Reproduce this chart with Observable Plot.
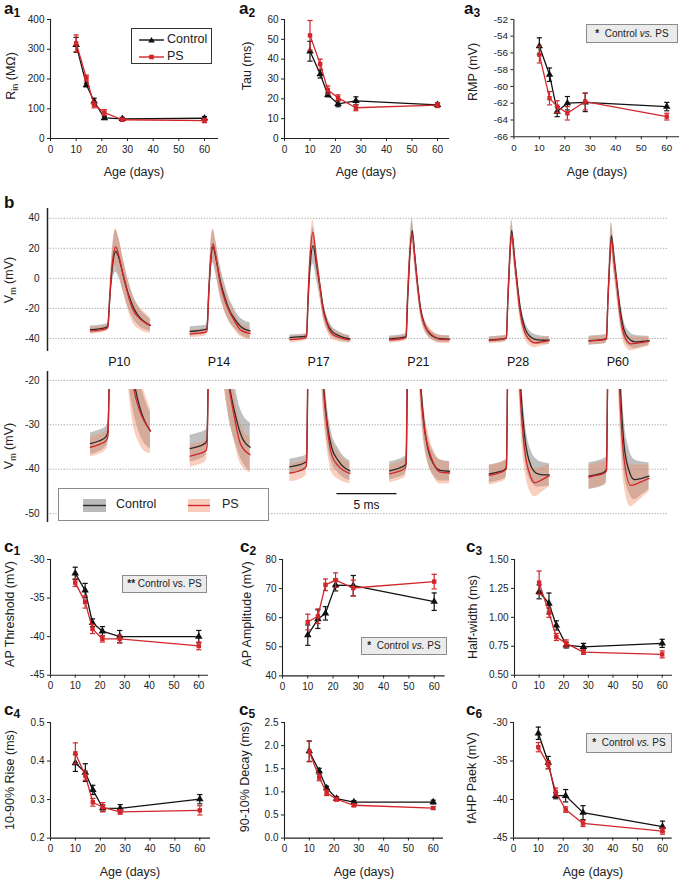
<!DOCTYPE html>
<html><head><meta charset="utf-8">
<script src="https://cdn.jsdelivr.net/npm/d3@7"></script>
<script src="https://cdn.jsdelivr.net/npm/@observablehq/plot@0.6"></script>
<style>
body{margin:0;background:#fff;}
#fig{position:relative;width:685px;height:879px;font-family:"Liberation Sans",Arial,sans-serif;color:#222;overflow:hidden;background:#fff}
#fig svg{overflow:visible}
.plot{position:absolute}
.lab{position:absolute;font-weight:bold;font-size:17px;line-height:17px;color:#111}
.lab sub{font-size:12px;vertical-align:-3px;line-height:0}
.ttl{position:absolute;font-size:12.5px;white-space:nowrap;transform:translate(-50%,-50%);line-height:14px}
.ttl sub{font-size:9px;vertical-align:-3px;line-height:0}
.yt{transform:translate(-50%,-50%) rotate(-90deg)}
.sig{position:absolute;background:#ebebeb;border:1px solid #8a8a8a;font-size:10px;display:block;text-align:center;box-sizing:border-box;white-space:nowrap}
.box{position:absolute;background:#fff;box-sizing:border-box}
</style></head><body><div id="fig"></div>
<script>
// ---------------- data ----------------
const ages = [10, 14, 17, 21, 28, 60];

const rinControl = [315, 180, 125, 69, 66, 68];
const rinControlSem = [25, 6, 10, 5, 5, 6];
const rinPS = [320, 203, 113, 87, 63, 60];
const rinPSSem = [28, 10, 10, 10, 5, 7];

const tauControl = [44, 32.5, 22, 17.5, 19, 17];
const tauControlSem = [5, 2, 1, 1.5, 2, 1];
const tauPS = [52, 37.5, 24.5, 20.5, 15.5, 16.8];
const tauPSSem = [7.5, 2.5, 2, 1.5, 1.5, 1.2];

const rmpControl = [-55.2, -58.6, -63, -62, -61.9, -62.4];
const rmpControlSem = [1, 0.8, 0.6, 0.8, 1.1, 0.5];
const rmpPS = [-56.2, -61.4, -62.4, -63.2, -61.8, -63.6];
const rmpPSSem = [1, 0.8, 0.7, 0.8, 1, 0.4];

const thrControl = [-31.8, -34, -38.2, -39.3, -40, -40];
const thrControlSem = [0.8, 0.9, 0.5, 0.6, 0.8, 0.8];
const thrPS = [-33, -35.5, -39, -40.3, -40.3, -41.2];
const thrPSSem = [0.5, 0.8, 0.6, 0.4, 0.5, 0.5];

const ampControl = [54, 59.5, 61.5, 71.2, 71, 65.5];
const ampControlSem = [3.5, 3.2, 2.3, 2, 3.5, 3];
const ampPS = [58.5, 60.5, 71.3, 72.9, 70.2, 72.4];
const ampPSSem = [2.7, 2.5, 2, 2.5, 2.7, 2.5];

const hwControl = [1.22, 1.12, 0.93, 0.76, 0.745, 0.775];
const hwControlSem = [0.06, 0.09, 0.04, 0.025, 0.03, 0.035];
const hwPS = [1.30, 1.04, 0.83, 0.775, 0.70, 0.68];
const hwPSSem = [0.1, 0.04, 0.03, 0.03, 0.02, 0.03];

const riseControl = [0.395, 0.37, 0.325, 0.278, 0.277, 0.301];
const riseControlSem = [0.022, 0.023, 0.012, 0.008, 0.01, 0.012];
const risePS = [0.42, 0.362, 0.293, 0.28, 0.268, 0.272];
const risePSSem = [0.027, 0.012, 0.01, 0.012, 0.006, 0.012];

const decayControl = [1.88, 1.45, 1.08, 0.855, 0.78, 0.78];
const decayControlSem = [0.22, 0.06, 0.04, 0.04, 0.03, 0.04];
const decayPS = [1.87, 1.31, 0.98, 0.84, 0.71, 0.65];
const decayPSSem = [0.22, 0.07, 0.06, 0.04, 0.03, 0.03];

const fahpControl = [-31.4, -35.2, -39.5, -39.5, -41.7, -43.5];
const fahpControlSem = [0.8, 0.8, 0.4, 0.8, 0.9, 0.7];
const fahpPS = [-33.2, -35.5, -39, -41.3, -43.1, -44.1];
const fahpPSSem = [0.6, 0.5, 0.5, 0.35, 0.4, 0.4];

// averaged AP traces: [time in trace (ms), mean Vm (mV), band half-width (mV)]
const traceLabels = ["P10", "P14", "P17", "P21", "P28", "P60"];
const p10Control = [[0,-34.2,2.4],[0.7,-33.6,2.4],[1.3,-32.6,2.2],[1.45,-31.6,2.1],[1.6,-15,4],[1.75,2,8],[1.9,12,12],[2.1,18,14],[2.35,14,13],[2.7,3,11],[3.1,-9,9.5],[3.6,-19.7,7.5],[4.1,-26,6],[4.55,-29.3,5],[5,-31.3,4]];
const p10PS = [[0,-35,2.2],[0.7,-34.4,2.2],[1.3,-33.5,2.1],[1.45,-32.6,2],[1.6,-14,4],[1.75,4,7],[1.9,15,10],[2.1,21,12],[2.35,15.5,12],[2.7,3,11],[3.1,-10,10],[3.5,-20,9],[4.1,-26.8,7.5],[4.55,-29.5,6.5],[5,-31.4,5]];
const p14Control = [[0,-35.3,3],[0.7,-34.8,3],[1.3,-34,2.8],[1.4,-33.2,2.6],[1.55,-10,5],[1.7,10,9],[1.9,21,11],[2.15,13,11],[2.5,-1.5,10],[2.9,-13,9],[3.2,-20,8],[3.7,-27,6.5],[4.2,-32,5.5],[5,-35,5.5]];
const p14PS = [[0,-37,2.5],[0.7,-36.5,2.5],[1.3,-35.8,2.4],[1.4,-35,2.2],[1.55,-10,5],[1.7,12,8],[1.9,23,10],[2.15,14,10],[2.5,-3,9],[2.9,-15,8],[3.15,-20,7],[3.7,-28.5,5.5],[4.2,-34.3,4.5],[5,-36.7,4]];
const p17Control = [[0,-39.4,1.7],[0.7,-39,1.7],[1.3,-38.4,1.6],[1.39,-38,1.5],[1.52,-15,4],[1.68,8,8],[1.94,21.8,12],[2.2,10,10],[2.5,-5,7.5],[2.78,-20,5.5],[3.1,-29.5,4.2],[3.47,-35,3.4],[4.03,-38,2.8],[4.5,-39.5,2.4],[5,-40.3,2.2]];
const p17PS = [[0,-40.8,2],[0.7,-40.4,2],[1.3,-39.6,1.9],[1.38,-39.2,1.8],[1.5,-15,4],[1.66,12,7],[1.92,30.7,8],[2.2,13,8],[2.5,-5,7],[2.75,-20,5.5],[3.1,-30.5,4.6],[3.47,-36.6,4],[4.03,-39.2,3],[4.5,-40.3,2.6],[5,-40.9,2.3]];
const p21Control = [[0,-40.3,2],[0.7,-39.8,2],[1.3,-39,2],[1.38,-38.6,1.8],[1.5,-15,3.5],[1.65,10,6],[1.88,32,8],[2.1,15,7],[2.35,-5,5],[2.58,-20,4],[2.9,-30.5,3.5],[3.2,-35.5,3],[3.67,-38.8,2.6],[4.2,-40.2,2.4],[5,-40.4,2.2]];
const p21PS = [[0,-41,2],[0.7,-40.5,2],[1.3,-39.7,2],[1.36,-39.3,1.8],[1.48,-15,3.5],[1.63,10,6],[1.88,30,7],[2.1,14,7],[2.33,-5,5],[2.55,-20,4.5],[2.9,-31,4],[3.2,-35,3.6],[3.67,-38.7,3],[4.2,-40.6,2.7],[5,-40.8,2.5]];
const p28Control = [[0,-41,2],[0.7,-40.6,2],[1.3,-40,2],[1.42,-39.5,1.8],[1.54,-15,3.5],[1.68,10,6],[1.86,32,7],[2.1,14,7],[2.35,-5,6],[2.58,-20,5],[2.92,-32,4.5],[3.47,-39.2,3.5],[4.05,-41,3],[4.5,-41.2,2.7],[5,-41.2,2.5]];
const p28PS = [[0,-41.3,2.2],[0.7,-40.9,2.2],[1.3,-40.2,2.2],[1.42,-39.8,2],[1.54,-15,3.5],[1.68,10,6],[1.86,29.6,6],[2.1,12,6],[2.32,-5,5.5],[2.52,-20,5],[2.92,-35,4.5],[3.47,-41.8,3.5],[3.8,-43,3.2],[4.4,-42.3,2.8],[5,-41.4,2.5]];
const p60Control = [[0,-41.5,3],[0.7,-41.1,3],[1.3,-40.5,3],[1.45,-40,2.8],[1.57,-15,4],[1.7,8,7],[1.86,28.5,9],[2.1,12,9],[2.35,-5,8],[2.58,-20,7],[2.9,-34,6],[3.3,-40,5],[3.8,-42.3,4.5],[4.4,-42,3.7],[5,-41.5,3]];
const p60PS = [[0,-41.7,2.7],[0.7,-41.3,2.7],[1.3,-40.8,2.6],[1.45,-40.3,2.4],[1.57,-15,4],[1.7,8,7],[1.86,26.3,9],[2.1,10,9],[2.33,-5,8],[2.52,-20,7],[2.9,-37.2,6],[3.47,-43.6,4.8],[4,-43.2,4.2],[4.5,-42.6,3.6],[5,-42,3]];
const traceControl = [p10Control, p14Control, p17Control, p21Control, p28Control, p60Control];
const tracePS = [p10PS, p14PS, p17PS, p21PS, p28PS, p60PS];
const scaleBarMs = 5;

// ---------------- style / layout ----------------
const FONT = '"Liberation Sans", Arial, sans-serif';
const BLACK = "#111", RED = "#d3262b";
const fig = document.getElementById("fig");

function place(node, left, top) {
  const d = document.createElement("div");
  d.className = "plot"; d.style.left = left + "px"; d.style.top = top + "px";
  d.appendChild(node); fig.appendChild(d); return d;
}
function addHTML(cls, html, x, y, extra) {
  const d = document.createElement("div");
  d.className = cls; d.innerHTML = html;
  d.style.left = x + "px"; d.style.top = y + "px";
  if (extra) Object.assign(d.style, extra);
  fig.appendChild(d); return d;
}

function smallPanel(s, cm, cs, pm, ps) {
  const mk = (m, e) => ages.map((a, i) => ({age: a, v: m[i], e: e[i]}));
  const ctrl = mk(cm, cs), psr = mk(pm, ps);
  const L = s.axisX - 46, T = s.yTop - 8;
  const W = s.axisEnd + 6 - L, H = s.yBot + 24 - T;
  const pxPerUnit = (s.x60 - s.axisX) / 60;
  const xEnd = (s.axisEnd - s.axisX) / pxPerUnit;
  const cap = 2.6 / pxPerUnit;
  const series = (data, color, symbol, r) => [
    Plot.line(data, {x: "age", y: "v", stroke: color, strokeWidth: 1.3}),
    Plot.ruleX(data, {x: "age", y1: d => d.v - d.e, y2: d => d.v + d.e, stroke: color, strokeWidth: 1.2}),
    Plot.link(data, {x1: d => d.age - cap, x2: d => d.age + cap, y1: d => d.v + d.e, y2: d => d.v + d.e, stroke: color, strokeWidth: 1.2}),
    Plot.link(data, {x1: d => d.age - cap, x2: d => d.age + cap, y1: d => d.v - d.e, y2: d => d.v - d.e, stroke: color, strokeWidth: 1.2}),
    Plot.dot(data, {x: "age", y: "v", symbol, r, fill: color, stroke: "none"})
  ];
  const chart = Plot.plot({
    width: W, height: H,
    marginLeft: s.axisX - L, marginRight: L + W - s.axisEnd,
    marginTop: s.yTop - T, marginBottom: T + H - s.yBot,
    x: {domain: [0, xEnd], ticks: [0, 10, 20, 30, 40, 50, 60], tickSize: 3, tickPadding: 4, label: null, tickFormat: d => String(d)},
    y: {domain: s.yDomain, ticks: s.yTicks, tickSize: 3, tickPadding: 3, label: null, tickFormat: s.fmt || (d => String(d))},
    style: {fontSize: "10px", fontFamily: FONT, color: "#222", background: "transparent"},
    marks: [
      Plot.ruleY([s.yDomain[0]], {stroke: "#222", strokeWidth: 1.1}),
      Plot.ruleX([0], {stroke: "#222", strokeWidth: 1.1}),
      ...series(ctrl, BLACK, "triangle", 2.8),
      ...series(psr, RED, "square", 2.5)
    ]
  });
  place(chart, L, T);
}

// ---- row a ----
smallPanel({axisX: 50, x60: 204, axisEnd: 218, yTop: 19, yBot: 138, yDomain: [0, 400], yTicks: [0, 100, 200, 300, 400]},
  rinControl, rinControlSem, rinPS, rinPSSem);
smallPanel({axisX: 284, x60: 437, axisEnd: 449, yTop: 19, yBot: 138, yDomain: [0, 60], yTicks: [0, 10, 20, 30, 40, 50, 60]},
  tauControl, tauControlSem, tauPS, tauPSSem);
smallPanel({axisX: 514, x60: 669, axisEnd: 682, yTop: 19, yBot: 138, yDomain: [-66, -52], yTicks: [-66, -64, -62, -60, -58, -56, -54, -52]},
  rmpControl, rmpControlSem, rmpPS, rmpPSSem);
// ---- row c (upper) ----
smallPanel({axisX: 50, x60: 198.3, axisEnd: 208, yTop: 559.3, yBot: 675, yDomain: [-45, -30], yTicks: [-45, -40, -35, -30]},
  thrControl, thrControlSem, thrPS, thrPSSem);
smallPanel({axisX: 282.3, x60: 434, axisEnd: 445, yTop: 559.3, yBot: 675.7, yDomain: [40, 80], yTicks: [40, 50, 60, 70, 80]},
  ampControl, ampControlSem, ampPS, ampPSSem);
smallPanel({axisX: 514, x60: 661.7, axisEnd: 672, yTop: 559.3, yBot: 675, yDomain: [0.5, 1.5], yTicks: [0.5, 0.75, 1, 1.25, 1.5], fmt: d3.format(".2f")},
  hwControl, hwControlSem, hwPS, hwPSSem);
// ---- row c (lower) ----
smallPanel({axisX: 50, x60: 199.3, axisEnd: 210, yTop: 721.7, yBot: 837.3, yDomain: [0.2, 0.5], yTicks: [0.2, 0.3, 0.4, 0.5], fmt: d3.format(".1f")},
  riseControl, riseControlSem, risePS, risePSSem);
smallPanel({axisX: 284, x60: 432.7, axisEnd: 443, yTop: 721.7, yBot: 837.3, yDomain: [0, 2.5], yTicks: [0, 0.5, 1, 1.5, 2, 2.5], fmt: d3.format(".1f")},
  decayControl, decayControlSem, decayPS, decayPSSem);
smallPanel({axisX: 513.3, x60: 662.3, axisEnd: 672, yTop: 721.7, yBot: 837.3, yDomain: [-45, -30], yTicks: [-45, -40, -35, -30]},
  fahpControl, fahpControlSem, fahpPS, fahpPSSem);

// ---- panel b ----
const bAxisX = 47, bRight = 668, pxPerMs = 12;
const bXEnd = (bRight - bAxisX) / pxPerMs;
const traceStartMs = 3.58, traceGapMs = 8.31;
const traceRows = list => list.flatMap((arr, i) => arr.map(([t, v, h]) => ({x: traceStartMs + i * traceGapMs + t, v, lo: v - h, hi: v + h, k: i})));
const ctrlRows = traceRows(traceControl), psRows = traceRows(tracePS);
const traceMarks = (clip) => [
  Plot.areaY(ctrlRows, {x: "x", y1: "lo", y2: "hi", z: "k", fill: "#8c8c8c", fillOpacity: 0.55, curve: "monotone-x", clip}),
  Plot.areaY(psRows, {x: "x", y1: "lo", y2: "hi", z: "k", fill: "#f0906a", fillOpacity: 0.42, curve: "monotone-x", clip}),
  Plot.line(ctrlRows, {x: "x", y: "v", z: "k", stroke: "#2a2a2a", strokeWidth: 1.3, curve: "monotone-x", clip}),
  Plot.line(psRows, {x: "x", y: "v", z: "k", stroke: RED, strokeWidth: 1.3, curve: "monotone-x", clip})
];
const gridStyle = {stroke: "#9a9a9a", strokeDasharray: "1.2,1.6", strokeWidth: 0.9};

// top traces: 1.5 px per mV, y axis from 208 to 351
const bTopTicks = [40, 20, 0, -20, -40];
const bTop = Plot.plot({
  width: 685, height: 190, marginLeft: bAxisX, marginRight: 685 - bRight, marginTop: 23, marginBottom: 24,
  x: {domain: [0, bXEnd], axis: null},
  y: {domain: [-48.7, 46.5], ticks: bTopTicks, tickSize: 0, tickPadding: 8, label: null, tickFormat: d => String(d)},
  style: {fontSize: "10px", fontFamily: FONT, color: "#222", background: "transparent"},
  marks: [
    Plot.ruleY(bTopTicks, gridStyle),
    Plot.ruleX([0], {stroke: "#222", strokeWidth: 1.5}),
    ...traceMarks(false),
    Plot.text(traceLabels, {x: (d, i) => traceStartMs + i * traceGapMs + 2.4, frameAnchor: "bottom", dy: 14, text: d => d, fontSize: 12.5, fill: "#111"})
  ]
});
place(bTop, 0, 185);

// bottom zoomed traces: 4.43 px per mV, axis from 371 (-18) to 522 (-52)
const bBotTicks = [-20, -30, -40, -50];
const bBotTop = 368, bBotH = 160;
const pxPerMv = 4.43;
const bBot = Plot.plot({
  width: 685, height: bBotH, marginLeft: bAxisX, marginRight: 685 - bRight, marginTop: 371 - bBotTop, marginBottom: bBotTop + bBotH - 522,
  x: {domain: [0, bXEnd], axis: null},
  y: {domain: [-52, -18], ticks: bBotTicks, tickSize: 0, tickPadding: 8, label: null, tickFormat: d => String(d)},
  style: {fontSize: "10px", fontFamily: FONT, color: "#222", background: "transparent"},
  marks: [
    Plot.ruleY(bBotTicks, gridStyle),
    Plot.ruleX([0], {stroke: "#222", strokeWidth: 1.5}),
    Plot.link([scaleBarMs], {x1: 24.08, x2: d => 24.08 + d, y1: -45.5, y2: -45.5, stroke: "#111", strokeWidth: 1.3}),
    Plot.text([scaleBarMs], {x: d => 24.08 + d / 2, y: -45.5, dy: 12, text: d => d + " ms", fontSize: 12, fill: "#111"})
  ]
});
place(bBot, 0, bBotTop);
// traces overlay clipped at -22 mV
const clipTopY = 371 + (-18 - -22) * pxPerMv; // pixel of -22 mV
const bBotTr = Plot.plot({
  width: 685, height: 522 - clipTopY + 1, marginLeft: bAxisX, marginRight: 685 - bRight, marginTop: 0, marginBottom: 1,
  x: {domain: [0, bXEnd], axis: null},
  y: {domain: [-52, -22], axis: null},
  style: {background: "transparent"},
  marks: traceMarks(true)
});
const trWrap = place(bBotTr, 0, clipTopY);
trWrap.style.overflow = "hidden";
bBotTr.style.overflow = "hidden";

// ---------------- text / legends ----------------
addHTML("lab", "a<sub>1</sub>", 4, 0);
addHTML("lab", "a<sub>2</sub>", 239, 0);
addHTML("lab", "a<sub>3</sub>", 464, 0);
addHTML("lab", "b", 4, 194);
addHTML("lab", "c<sub>1</sub>", 4, 538);
addHTML("lab", "c<sub>2</sub>", 240, 538);
addHTML("lab", "c<sub>3</sub>", 466, 538);
addHTML("lab", "c<sub>4</sub>", 4, 701);
addHTML("lab", "c<sub>5</sub>", 239, 701);
addHTML("lab", "c<sub>6</sub>", 466, 701);

const xt = "Age (days)";
[[134, 172], [366, 172], [597, 172], [130, 872], [364, 872], [593, 872]].forEach(([x, y]) => addHTML("ttl", xt, x, y));
const yts = [
  ["R<sub>in</sub> (MΩ)", 11, 76], ["Tau (ms)", 247, 66], ["RMP (mV)", 473, 72],
  ["V<sub>m</sub> (mV)", 9, 280], ["V<sub>m</sub> (mV)", 9, 446],
  ["AP Threshold (mV)", 10, 614], ["AP Amplitude (mV)", 247, 614], ["Half-width (ms)", 473, 617],
  ["10-90% Rise (ms)", 10, 780], ["90-10% Decay (ms)", 245, 777], ["fAHP Paek (mV)", 472, 778]
];
yts.forEach(([t, x, y]) => addHTML("ttl yt", t, x, y));

const sig = (html, l, t, w, h) => addHTML("sig", "<span>" + html + "</span>", l, t, {width: w + "px", height: h + "px", lineHeight: (h - 2) + "px"});
sig("<b>*</b>&nbsp;&nbsp;Control <i>vs.</i> PS", 586, 24, 92, 19);
sig("<b>**</b> Control vs. PS", 122, 575, 85, 18);
sig("<b>*</b>&nbsp;&nbsp;Control <i>vs.</i> PS", 361, 637, 86, 18);
sig("<b>*</b>&nbsp;&nbsp;Control <i>vs.</i> PS", 586, 733, 86, 20);

addHTML("box", `
<svg width="81" height="36" style="position:absolute;left:0;top:0">
  <line x1="7" x2="32" y1="11" y2="11" stroke="${BLACK}" stroke-width="1.4"/>
  <path d="M19.5,8 L22.8,13.5 L16.2,13.5 Z" fill="${BLACK}"/>
  <line x1="7" x2="32" y1="28" y2="28" stroke="${RED}" stroke-width="1.4"/>
  <rect x="17.2" y="25.7" width="4.6" height="4.6" fill="${RED}"/>
</svg>
<div style="position:absolute;left:35px;top:3px;font-size:12.5px">Control</div>
<div style="position:absolute;left:35px;top:20px;font-size:12.5px">PS</div>`, 131, 28,
  {width: "81px", height: "36px", border: "1px solid #333"});

addHTML("box", `
<svg width="211" height="33" style="position:absolute;left:0;top:0">
  <rect x="24" y="10" width="23" height="13" fill="#8c8c8c" fill-opacity="0.6"/>
  <line x1="24" x2="47" y1="16.5" y2="16.5" stroke="#2a2a2a" stroke-width="1.4"/>
  <rect x="129" y="10" width="22" height="13" fill="#f0906a" fill-opacity="0.45"/>
  <line x1="129" x2="151" y1="16.5" y2="16.5" stroke="${RED}" stroke-width="1.4"/>
</svg>
<div style="position:absolute;left:57px;top:8px;font-size:12.5px">Control</div>
<div style="position:absolute;left:163px;top:8px;font-size:12.5px">PS</div>`, 58, 488,
  {width: "211px", height: "33px", border: "1px solid #8a8a8a"});
</script>
</body></html>
